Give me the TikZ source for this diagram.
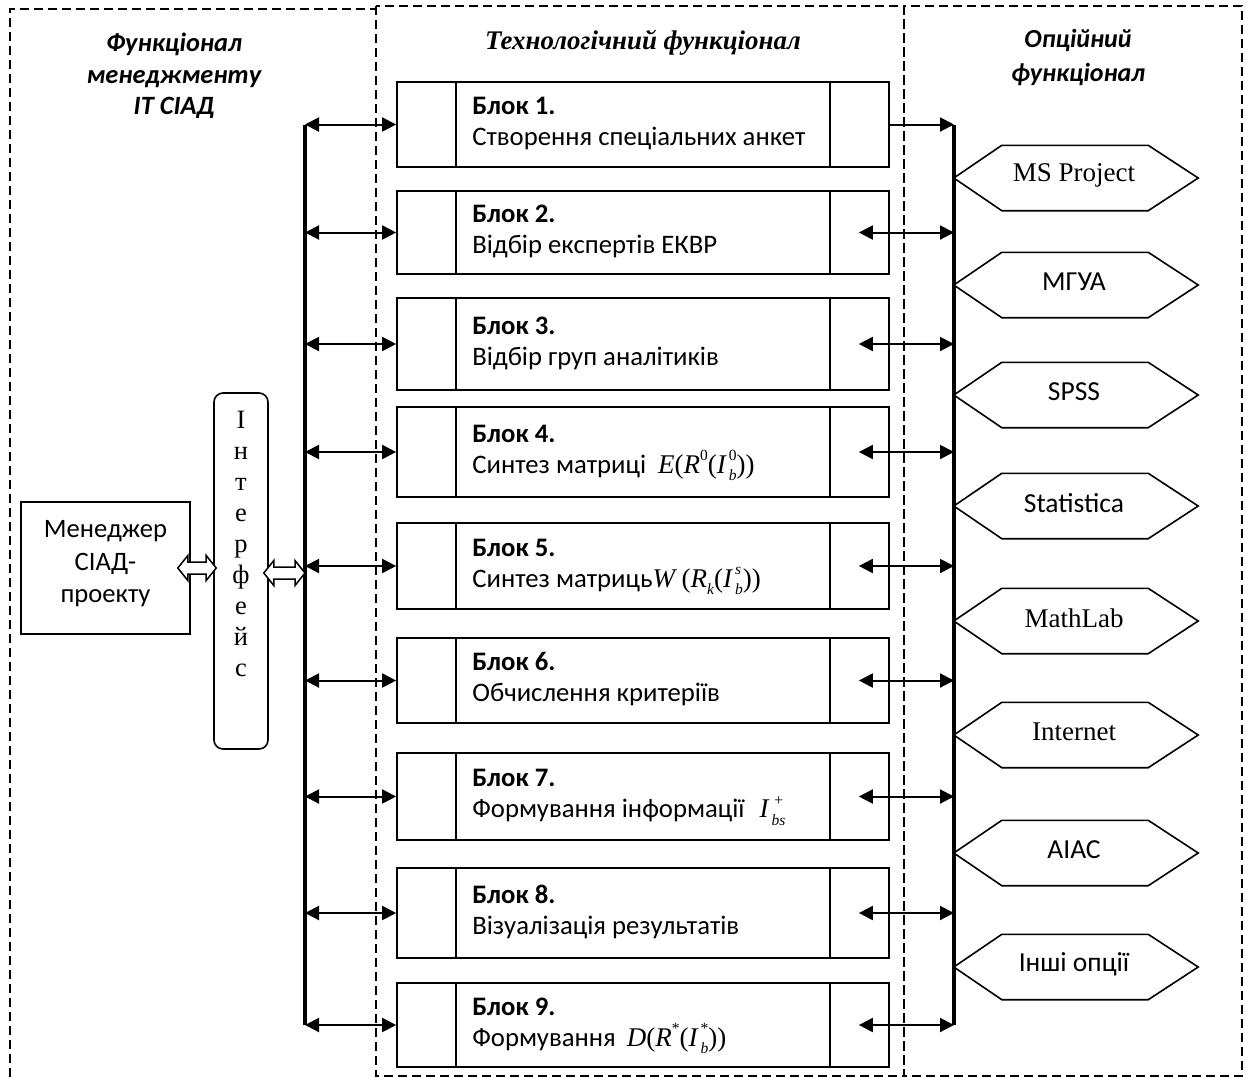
\documentclass[tikz,border=0pt]{standalone}
\usepackage{fontspec}
\setmainfont{Carlito}
\newfontfamily\serif{Liberation Serif}
\usetikzlibrary{arrows.meta,calc}

\newcommand\mysup[1]{\raisebox{0.46em}{\fontsize{15.5}{15.5}\selectfont #1}}
\newcommand\mysub[1]{\raisebox{-0.28em}{\fontsize{15.5}{15.5}\selectfont #1}}
\newcommand\mysupsub[2]{\kern2pt\rlap{\raisebox{0.46em}{\fontsize{15.5}{15.5}\selectfont #1}}\raisebox{-0.28em}{\fontsize{15.5}{15.5}\selectfont #2}}
\newcommand\fm[1]{{\serif\fontsize{27}{27}\selectfont #1}}

\tikzset{
  region/.style={draw, line width=1.5pt, dash pattern=on 9pt off 5pt},
  blockbox/.style={draw, line width=1.7pt, minimum width=492pt, inner sep=0pt},
  divider/.style={line width=1.5pt},
  btxt/.style={anchor=base west, inner sep=0pt, font=\fontsize{26.7}{26.7}\selectfont},
  bus/.style={line width=3.5pt},
  biarrow/.style={line width=2pt, {Triangle[length=14pt,width=14pt]}-{Triangle[length=14pt,width=14pt]}},
  onearrow/.style={line width=2pt, -{Triangle[length=14pt,width=14pt]}},
  hexshape/.style={minimum width=244pt, minimum height=65pt, inner sep=0pt},
  hexline/.style={line width=1.6pt},
  hollowarr/.style={draw, line width=1.5pt, fill=white},
  title/.style={align=center, inner sep=0pt},
}

\newcommand\blk[6]{%
  \node[blockbox, minimum height=#3pt] (#1) at (643,#2) {};
  \draw[divider] ([xshift=60pt]#1.north west) -- ([xshift=60pt]#1.south west);
  \draw[divider] ([xshift=-60pt]#1.north east) -- ([xshift=-60pt]#1.south east);
  \node[btxt] (#1-t1) at ([xshift=76pt,yshift=10pt]#1.west) {\textbf{#4}};
  \node[btxt] (#1-t2) at ([xshift=76pt,yshift=-21pt]#1.west) {#5#6};
}

\newcommand\hexnode[4]{%
  \node[hexshape] (#1) at (1076,#2) {};
  \draw[hexline] (#1.west) -- ([xshift=48pt]#1.north west) -- ([xshift=-50pt]#1.north east)
     -- (#1.east) -- ([xshift=-50pt]#1.south east) -- ([xshift=48pt]#1.south west) -- cycle;
  \node[inner sep=0pt, font=#3] (#1-t) at ([xshift=-2pt,yshift=3pt]#1.center) {#4};
}

\newcommand\hollow[2]{%
  \path[hollowarr] let \p1=#1, \p2=#2 in
    (\x1,\y1) -- (\x1+10pt,\y1+12.5pt) -- (\x1+10pt,\y1+6pt) -- (\x2-10pt,\y1+6pt)
    -- (\x2-10pt,\y1+12.5pt) -- (\x2,\y1) -- (\x2-10pt,\y1-12.5pt) -- (\x2-10pt,\y1-6pt)
    -- (\x1+10pt,\y1-6pt) -- (\x1+10pt,\y1-12.5pt) -- cycle;
}

\begin{document}
\begin{tikzpicture}[x=1pt,y=-1pt]
\useasboundingbox (0,0) rectangle (1250,1077);
\fill[white] (0,0) rectangle (1250,1077);

% regions
\draw[region] (10,1077) -- (10,9) -- (376,9);
\draw[region] (376,6) rectangle (904,1076);
\draw[region] (904,6) rectangle (1242,1076);

% titles
\node[title, font=\bfseries\itshape\fontsize{26.4}{31.5}\selectfont] (tleft) at (174,76) {Функціонал\\менеджменту\\ІТ СІАД};
\node[title, font=\serif\bfseries\itshape\fontsize{26.9}{32}\selectfont] (tmid) at (643,43) {Технологічний функціонал};
\node[title, font=\bfseries\itshape\fontsize{26}{34}\selectfont] (tright) at (1078,57) {Опційний\\функціонал};

% buses
\coordinate (lbus) at (305,0);
\coordinate (rbus) at (954,0);

% blocks
\blk{b1}{124.5}{85}{Блок 1.}{Створення спеціальних анкет}{}
\blk{b2}{232.5}{83}{Блок 2.}{Відбір експертів ЕКВР}{}
\blk{b3}{344}{92}{Блок 3.}{Відбір груп аналітиків}{}
\blk{b4}{452}{90}{Блок 4.}{Синтез матриці\hspace{12pt}}{\fm{\textit{E}(\textit{R}\mysup{0}(\textit{I}\mysupsub{0}{\textit{b}}))}}
\blk{b5}{566}{86}{Блок 5.}{Синтез матриць}{\fm{\textit{W}\,(\textit{R}\mysub{\textit{k}}(\textit{I}\mysupsub{\textit{s}}{\textit{b}}))}}
\blk{b6}{680.5}{85}{Блок 6.}{Обчислення критеріїв}{}
\blk{b7}{796.5}{87}{Блок 7.}{Формування інформації\hspace{15pt}}{\fm{\textit{I}\mysupsub{\,+}{\textit{bs}}}}
\blk{b8}{913}{90}{Блок 8.}{Візуалізація результатів}{}
\blk{b9}{1025}{84}{Блок 9.}{Формування\hspace{11pt}}{\fm{\textit{D}(\textit{R}\mysup{*}(\textit{I}\mysupsub{*}{\textit{b}}))}}

% bus lines
\draw[bus] (b1.west -| lbus) -- (b9.west -| lbus);
\draw[bus] (b1.east -| rbus) -- (b9.east -| rbus);

% left connectors
\foreach \i in {1,...,9} {
  \draw[biarrow] (b\i.west -| lbus) -- (b\i.west);
}
% right connectors
\draw[onearrow] (b1.east) -- (b1.east -| rbus);
\foreach \i in {2,...,9} {
  \draw[biarrow] ([xshift=-31pt]b\i.east) -- (b\i.east -| rbus);
}

% hexagons
\hexnode{h1}{178}{\serif\fontsize{27}{27}\selectfont}{MS Project}
\hexnode{h2}{285}{\fontsize{27.5}{27.5}\selectfont}{МГУА}
\hexnode{h3}{395}{\fontsize{27.5}{27.5}\selectfont}{SPSS}
\hexnode{h4}{506}{\fontsize{27.5}{27.5}\selectfont}{Statistica}
\hexnode{h5}{621}{\serif\fontsize{27}{27}\selectfont}{MathLab}
\hexnode{h6}{735}{\serif\fontsize{27}{27}\selectfont}{Internet}
\hexnode{h7}{853}{\fontsize{27.5}{27.5}\selectfont}{AIAC}
\hexnode{h8}{967}{\fontsize{27.5}{27.5}\selectfont}{Інші опції}

% manager
\node[draw, line width=1.6pt, minimum width=169pt, minimum height=132pt, inner sep=0pt] (mgr) at (105.5,568) {};
\node[title, font=\fontsize{26.6}{32.5}\selectfont] (mgr-t) at (105.5,564) {Менеджер\\СІАД-\\проекту};

% interface
\node[draw, line width=1.6pt, rounded corners=9pt, minimum width=54pt, minimum height=356pt, inner sep=0pt] (iface) at (241,571) {};
\foreach \c [count=\k from 0] in {І,н,т,е,р,ф,е,й,с} {
  \node[anchor=base, inner sep=0pt, font=\serif\fontsize{26.5}{26.5}\selectfont] (iface-l\k) at (241,{428+31*\k}) {\c};
}

% hollow double arrows
\hollow{([xshift=-13pt]mgr.east)}{([xshift=3pt]iface.west)}
\hollow{([xshift=-5pt,yshift=-2pt]iface.east)}{(b5.west -| lbus)}

\end{tikzpicture}
\end{document}
